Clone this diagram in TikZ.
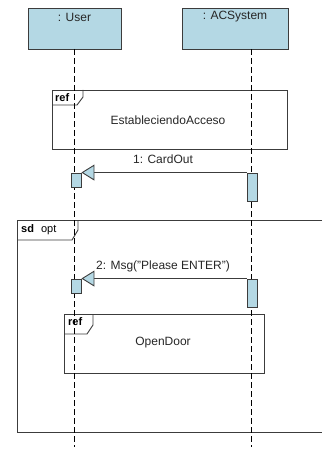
\documentclass[tikz,border=0pt]{standalone}
\usepackage{fontspec}
\setmainfont{Liberation Sans}
\usetikzlibrary{arrows.meta}
\definecolor{lblue}{RGB}{180,216,228}
\definecolor{lgray}{RGB}{60,60,60}
\tikzset{
  lifebox/.style={draw=lgray, fill=lblue, line width=0.9pt},
  lifeline/.style={draw=black, dash pattern=on 6pt off 3pt, line width=0.8pt},
  actbox/.style={draw=lgray, fill=lblue, line width=0.9pt},
  frame/.style={draw=lgray, line width=0.9pt},
  msg/.style={draw=lgray, line width=0.9pt, -{Triangle[open, fill=lblue, length=13pt, width=16pt, line width=0.9pt]}},
  txt/.style={font=\fontsize{12}{14}\selectfont, text=black!85, inner sep=0pt}
}
\begin{document}
\begin{tikzpicture}[x=1pt,y=-1pt]
\useasboundingbox (0,0) rectangle (322,449);
% lifeline heads
\draw[lifebox] (28,8) rectangle (121,49);
\node[txt] (user) at (74.5,17) {: User};
\draw[lifebox] (182,8) rectangle (288,49);
\node[txt] (acs) at (235,17) {: ACSystem};
% ref 1
\draw[frame] (52,90) rectangle (287,149);
\draw[frame] (52,105) -- (77,105) -- (83,97) -- (83,90);
\node[font=\bfseries\fontsize{11}{13}\selectfont, inner sep=0pt, anchor=west] (ref1) at (55,98) {ref};
\node[txt] (ea) at (168,120) {EstableciendoAcceso};
% sd opt frame
\draw[frame] (322,220) -- (17,220) -- (17,432) -- (322,432);
\draw[frame] (17,240) -- (72,240) -- (78,230) -- (78,220);
\node[inner sep=0pt, anchor=west, font=\fontsize{11}{13}\selectfont] (sd) at (21,230) {\textbf{sd}\hspace{7pt}opt};
% ref 2
\draw[frame] (64,314) rectangle (264,373);
\draw[frame] (64,334) -- (87,334) -- (93,325) -- (93,314);
\node[font=\bfseries\fontsize{11}{13}\selectfont, inner sep=0pt, anchor=west] (ref2) at (68,322) {ref};
\node[txt] (od) at (163,343) {OpenDoor};
% lifelines
\coordinate (uTop) at (74,49);
\coordinate (uBot) at (74,447);
\coordinate (aTop) at (251,49);
\coordinate (aBot) at (251,447);
\draw[lifeline] (uTop) -- (uBot);
\draw[lifeline] (aTop) -- (aBot);
% activations
\node[actbox, minimum width=10pt, minimum height=14pt, inner sep=0pt] (ua1) at (76,180) {};
\node[actbox, minimum width=10pt, minimum height=28pt, inner sep=0pt] (aa1) at (252,187) {};
\node[actbox, minimum width=10pt, minimum height=14pt, inner sep=0pt] (ua2) at (76,286) {};
\node[actbox, minimum width=10pt, minimum height=28pt, inner sep=0pt] (aa2) at (252,293) {};
% messages
\draw[msg] (aa1.north west) -- (ua1.north east);
\node[txt] (m1) at (163,159) {1: CardOut};
\draw[msg] (aa2.north west) -- (ua2.north east);
\node[txt] (m2) at (163,266) {2: Msg("Please ENTER")};
\end{tikzpicture}
\end{document}
